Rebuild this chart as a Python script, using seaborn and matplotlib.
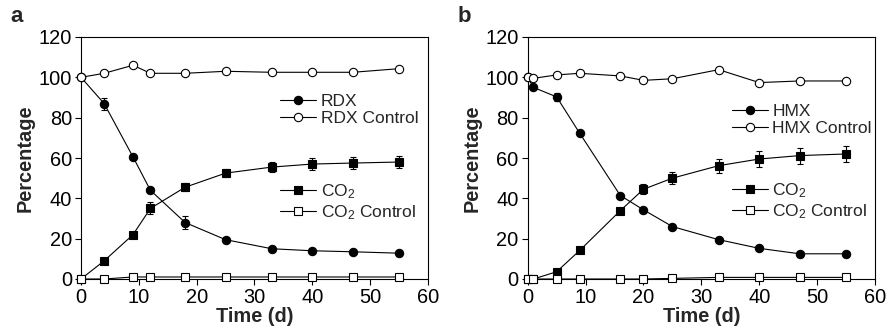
import numpy as np
import pandas as pd
import matplotlib
matplotlib.use("Agg")
import matplotlib.pyplot as plt
import seaborn as sns

sns.set_style("ticks")
plt.rcParams['font.family'] = ['Liberation Sans', 'DejaVu Sans']
plt.rcParams['mathtext.default'] = 'regular'

# ---- Panel a data ----
t_a = [0, 4, 9, 12, 18, 25, 33, 40, 47, 55]
rdx = [100, 87, 60.5, 44, 28, 19.5, 15, 14, 13.5, 12.8]
rdx_err = [0, 3, 0, 0, 3, 0, 0, 0, 0, 0]
rdx_ctrl = [100, 102, 106, 102, 102, 103, 102.5, 102.5, 102.5, 104.3]
co2_a = [0, 9, 22, 35, 45.5, 52.5, 55.5, 57, 57.5, 58]
co2_a_err = [0, 0, 0, 3, 2, 2, 2.5, 3, 3, 3]
co2_a_ctrl = [0, 0, 1, 1, 1, 1, 1, 1, 1, 1]

# ---- Panel b data ----
t_b = [0, 1, 5, 9, 16, 20, 25, 33, 40, 47, 55]
hmx = [100, 95, 90.3, 72.2, 41.4, 34.3, 26, 19.5, 15.2, 12.5, 12.5]
hmx_err = [0, 0, 2, 0, 0, 0, 0, 0, 0, 0, 0]
hmx_ctrl = [100, 99.5, 101.2, 102, 100.7, 98.5, 99.3, 103.8, 97.4, 98.2, 98.2]
co2_b = [0, 0, 3.6, 14.2, 33.9, 44.5, 50, 56.2, 59.5, 61.2, 62]
co2_b_err = [0, 0, 0, 0, 0, 2.5, 3, 3.5, 4, 4, 4]
co2_b_ctrl = [0, 0, 0, 0, 0, 0, 0.3, 0.8, 0.8, 0.8, 0.8]

fig = plt.figure(figsize=(8.87, 3.34), dpi=100)
W, H = 887, 334
ax_a = fig.add_axes([81 / W, 1 - 279 / H, 347 / W, 242 / H])
ax_b = fig.add_axes([527.7 / W, 1 - 279 / H, 347.3 / W, 242 / H])

FS_TICK = 14.4
FS_LAB = 14.4
FS_LEG = 12.5
ms = 6
lw = 0.8


def draw(ax, t, main, main_err, main_ctrl, co2, co2_err, co2_ctrl, name,
         leg1_xy, leg2_xy):
    h = {}
    for key, y, err, marker, face in [
        (name, main, main_err, 'o', 'black'),
        ('CO$_2$', co2, co2_err, 's', 'black'),
        (name + ' Control', main_ctrl, None, 'o', 'white'),
        ('CO$_2$ Control', co2_ctrl, None, 's', 'white'),
    ]:
        if err is not None:
            ax.errorbar(t, y, yerr=err, fmt='none', ecolor='black',
                        elinewidth=lw, capsize=2.5, capthick=lw, zorder=2)
        sns.lineplot(x=t, y=y, ax=ax, color='black', linewidth=lw,
                     marker=marker, markersize=ms, markerfacecolor=face,
                     markeredgecolor='black', markeredgewidth=0.8,
                     label=key, legend=False, zorder=3, clip_on=False)
        h[key] = ax.get_lines()[-1]
    l1 = ax.legend([h[name], h[name + ' Control']], [name, name + ' Control'],
                   loc='center left', bbox_to_anchor=leg1_xy, frameon=False,
                   fontsize=FS_LEG, handlelength=2.1, handletextpad=0.25,
                   labelspacing=0.12, borderpad=0, borderaxespad=0, numpoints=1)
    ax.add_artist(l1)
    ax.legend([h['CO$_2$'], h['CO$_2$ Control']], ['CO$_2$', 'CO$_2$ Control'],
              loc='center left', bbox_to_anchor=leg2_xy, frameon=False,
              fontsize=FS_LEG, handlelength=2.1, handletextpad=0.25,
              labelspacing=0.12, borderpad=0, borderaxespad=0, numpoints=1)
    ax.set_xlim(0, 60)
    ax.set_ylim(0, 120)
    ax.set_xticks(range(0, 61, 10))
    ax.set_yticks(range(0, 121, 20))
    ax.tick_params(labelsize=FS_TICK, length=4, width=0.8, direction='out',
                   colors='black', pad=2.5)
    for s in ax.spines.values():
        s.set_visible(True)
        s.set_linewidth(0.8)
        s.set_color('black')
    ax.set_xlabel('Time (d)', fontsize=FS_LAB, fontweight='bold', labelpad=0)
    ax.set_ylabel('Percentage', fontsize=FS_LAB, fontweight='bold', labelpad=3)


draw(ax_a, t_a, rdx, rdx_err, rdx_ctrl, co2_a, co2_a_err, co2_a_ctrl, 'RDX',
     (0.573, 0.698), (0.573, 0.318))
draw(ax_b, t_b, hmx, hmx_err, hmx_ctrl, co2_b, co2_b_err, co2_b_ctrl, 'HMX',
     (0.587, 0.657), (0.587, 0.322))

fig.text(10 / W, 1 - 17 / H, 'a', fontsize=16, fontweight='bold', va='center')
fig.text(458 / W, 1 - 17 / H, 'b', fontsize=16, fontweight='bold', va='center')

fig.savefig('out.png', dpi=100)
